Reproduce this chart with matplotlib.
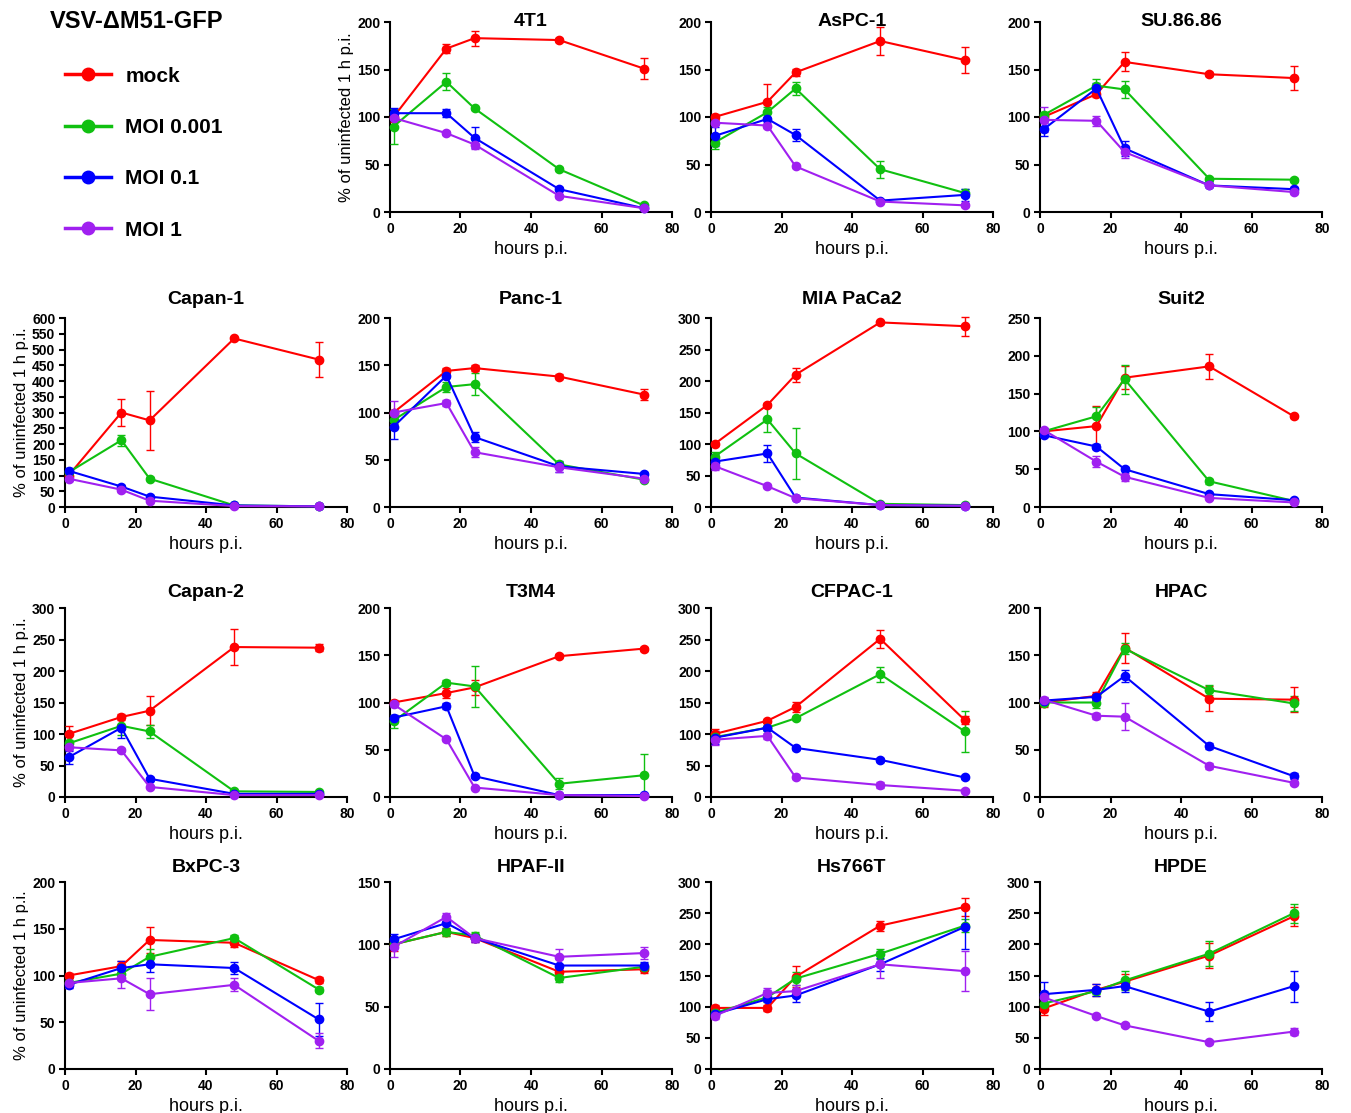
import matplotlib
matplotlib.use("Agg")
import matplotlib.pyplot as plt
from matplotlib.lines import Line2D

plt.rcParams['font.family'] = ['Liberation Sans', 'DejaVu Sans']

# time points (hours p.i.)
hours = [1, 16, 24, 48, 72]
series = ['mock', 'MOI 0.001', 'MOI 0.1', 'MOI 1']
colors = ['#ff0000', '#10c010', '#0000ff', '#a020f0']

# mean values per cell line, rows = mock, MOI 0.001, MOI 0.1, MOI 1
m_4t1 = [[100, 172, 183, 181, 151], [90, 137, 109, 45, 7], [104, 104, 78, 24, 4], [99, 83, 71, 17, 4]]
e_4t1 = [[5, 5, 8, 2, 11], [18, 9, 2, 2, 1], [5, 4, 11, 2, 1], [2, 2, 5, 2, 1]]
m_aspc1 = [[100, 116, 147, 180, 160], [73, 105, 130, 45, 20], [80, 98, 81, 12, 18], [94, 91, 48, 11, 7]]
e_aspc1 = [[3, 19, 4, 15, 14], [7, 5, 7, 9, 4], [10, 8, 6, 2, 6], [2, 3, 2, 2, 2]]
m_su86 = [[100, 124, 158, 145, 141], [102, 133, 129, 35, 34], [87, 130, 67, 28, 24], [97, 96, 63, 28, 21]]
e_su86 = [[3, 3, 10, 2, 13], [3, 7, 9, 2, 2], [7, 6, 8, 2, 2], [13, 5, 6, 2, 2]]
m_capan1 = [[100, 300, 275, 535, 468], [110, 212, 90, 5, 2], [115, 65, 33, 5, 2], [90, 55, 20, 3, 2]]
e_capan1 = [[5, 42, 93, 5, 55], [5, 17, 5, 2, 1], [10, 6, 4, 1, 1], [8, 8, 5, 1, 1]]
m_panc1 = [[100, 144, 147, 138, 119], [92, 127, 130, 45, 29], [85, 139, 74, 43, 35], [100, 110, 58, 42, 30]]
e_panc1 = [[3, 3, 3, 3, 6], [4, 5, 12, 3, 2], [13, 3, 5, 6, 2], [12, 3, 5, 5, 2]]
m_mia = [[100, 162, 210, 293, 287], [80, 139, 85, 5, 3], [72, 85, 15, 3, 2], [65, 33, 14, 3, 2]]
e_mia = [[3, 3, 11, 3, 15], [7, 20, 40, 2, 1], [12, 13, 2, 1, 1], [6, 3, 2, 1, 1]]
m_suit2 = [[100, 107, 171, 186, 120], [100, 120, 169, 34, 8], [95, 80, 50, 17, 9], [102, 60, 40, 12, 6]]
e_suit2 = [[2, 27, 15, 17, 2], [2, 12, 19, 3, 1], [3, 3, 3, 2, 2], [3, 7, 5, 2, 1]]
m_capan2 = [[100, 127, 137, 238, 237], [85, 113, 104, 9, 8], [63, 110, 29, 5, 5], [79, 74, 16, 3, 3]]
e_capan2 = [[13, 5, 23, 29, 6], [5, 15, 10, 2, 2], [10, 17, 3, 1, 1], [5, 3, 2, 1, 1]]
m_t3m4 = [[100, 110, 116, 149, 157], [80, 121, 117, 14, 23], [84, 96, 22, 2, 2], [98, 61, 10, 2, 1]]
e_t3m4 = [[3, 5, 8, 2, 2], [7, 3, 22, 6, 22], [3, 3, 2, 1, 1], [3, 2, 1, 1, 1]]
m_cfpac = [[100, 121, 143, 251, 122], [95, 110, 125, 195, 104], [94, 110, 78, 59, 31], [91, 97, 31, 19, 10]]
e_cfpac = [[8, 3, 8, 14, 6], [5, 3, 3, 12, 32], [10, 3, 3, 3, 3], [8, 5, 2, 5, 2]]
m_hpac = [[100, 107, 158, 104, 103], [100, 100, 157, 113, 99], [102, 106, 128, 54, 22], [103, 86, 85, 33, 15]]
e_hpac = [[5, 4, 16, 13, 13], [3, 6, 6, 5, 8], [3, 3, 6, 3, 3], [3, 3, 14, 3, 2]]
m_bxpc3 = [[100, 110, 138, 135, 95], [92, 102, 120, 140, 85], [90, 108, 112, 108, 53], [92, 97, 80, 90, 30]]
e_bxpc3 = [[3, 6, 14, 5, 3], [3, 5, 8, 3, 3], [3, 8, 8, 6, 18], [5, 10, 17, 7, 8]]
m_hpaf = [[100, 110, 105, 78, 80], [100, 110, 107, 73, 82], [104, 117, 105, 83, 83], [98, 122, 105, 90, 93]]
e_hpaf = [[5, 3, 3, 3, 3], [3, 3, 3, 3, 3], [4, 5, 3, 5, 3], [8, 3, 3, 6, 5]]
m_hs766 = [[98, 98, 148, 230, 260], [90, 115, 145, 185, 230], [88, 112, 118, 168, 228], [85, 122, 125, 168, 157]]
e_hs766 = [[5, 5, 17, 8, 15], [5, 8, 10, 8, 10], [5, 15, 10, 10, 35], [5, 8, 10, 22, 32]]
m_hpde = [[97, 127, 140, 182, 245], [105, 125, 142, 185, 250], [120, 127, 133, 92, 133], [115, 85, 70, 43, 60]]
e_hpde = [[10, 10, 12, 20, 15], [8, 5, 15, 20, 15], [20, 10, 10, 15, 25], [10, 3, 3, 3, 5]]

panels = [
    ('4T1', m_4t1, e_4t1, 200, 50),
    ('AsPC-1', m_aspc1, e_aspc1, 200, 50),
    ('SU.86.86', m_su86, e_su86, 200, 50),
    ('Capan-1', m_capan1, e_capan1, 600, 50),
    ('Panc-1', m_panc1, e_panc1, 200, 50),
    ('MIA PaCa2', m_mia, e_mia, 300, 50),
    ('Suit2', m_suit2, e_suit2, 250, 50),
    ('Capan-2', m_capan2, e_capan2, 300, 50),
    ('T3M4', m_t3m4, e_t3m4, 200, 50),
    ('CFPAC-1', m_cfpac, e_cfpac, 300, 50),
    ('HPAC', m_hpac, e_hpac, 200, 50),
    ('BxPC-3', m_bxpc3, e_bxpc3, 200, 50),
    ('HPAF-II', m_hpaf, e_hpaf, 150, 50),
    ('Hs766T', m_hs766, e_hs766, 300, 50),
    ('HPDE', m_hpde, e_hpde, 300, 50),
]

W, H = 1351, 1113
fig = plt.figure(figsize=(W / 100, H / 100), dpi=100)

col_left = [65, 390, 711, 1040]
row_top = [22, 318, 608, 882]
row_bot = [212, 507, 797, 1069]
title_pad = [-3, 10, 8, 7]
ax_w = 282

for i, (name, means, errs, ymax, ystep) in enumerate(panels):
    k = i + 1
    r, c = divmod(k, 4)
    left = col_left[c] / W
    bottom = 1 - row_bot[r] / H
    height = (row_bot[r] - row_top[r]) / H
    ax = fig.add_axes([left, bottom, ax_w / W, height])
    for s in range(4):
        ax.errorbar(hours, means[s], yerr=errs[s], color=colors[s], marker='o',
                    markersize=6, lw=1.5, capsize=3, elinewidth=1, capthick=1,
                    clip_on=False, zorder=3)
    ax.set_xlim(0, 80)
    ax.set_ylim(0, ymax)
    ax.set_xticks([0, 20, 40, 60, 80])
    ax.set_yticks(range(0, ymax + 1, ystep))
    ax.spines['top'].set_visible(False)
    ax.spines['right'].set_visible(False)
    ax.spines['left'].set_linewidth(1.5)
    ax.spines['bottom'].set_linewidth(1.5)
    ax.tick_params(width=1.5, length=4, labelsize=10, pad=3)
    for lab in ax.get_xticklabels() + ax.get_yticklabels():
        lab.set_fontweight('bold')
    ax.set_title(name, fontsize=14, fontweight='bold', y=1.0, pad=title_pad[r])
    ax.set_xlabel('hours p.i.', fontsize=13, labelpad=4)
    if c == 0 or k == 1:
        ax.set_ylabel('% of uninfected 1 h p.i.', fontsize=12, labelpad=2)

fig.text(50 / W, 1 - 22 / H, 'VSV-\u0394M51-GFP', fontsize=17, fontweight='bold',
         va='center', ha='left')
handles = [Line2D([], [], color=col, lw=2.5, marker='o', markersize=9) for col in colors]
fig.legend(handles=handles, labels=series, loc='upper left',
           bbox_to_anchor=(46 / W, 1 - 48 / H), frameon=False,
           prop={'size': 15, 'weight': 'bold'}, labelspacing=1.55,
           handlelength=2.2, handletextpad=0.7)

fig.savefig('out.png', dpi=100)
